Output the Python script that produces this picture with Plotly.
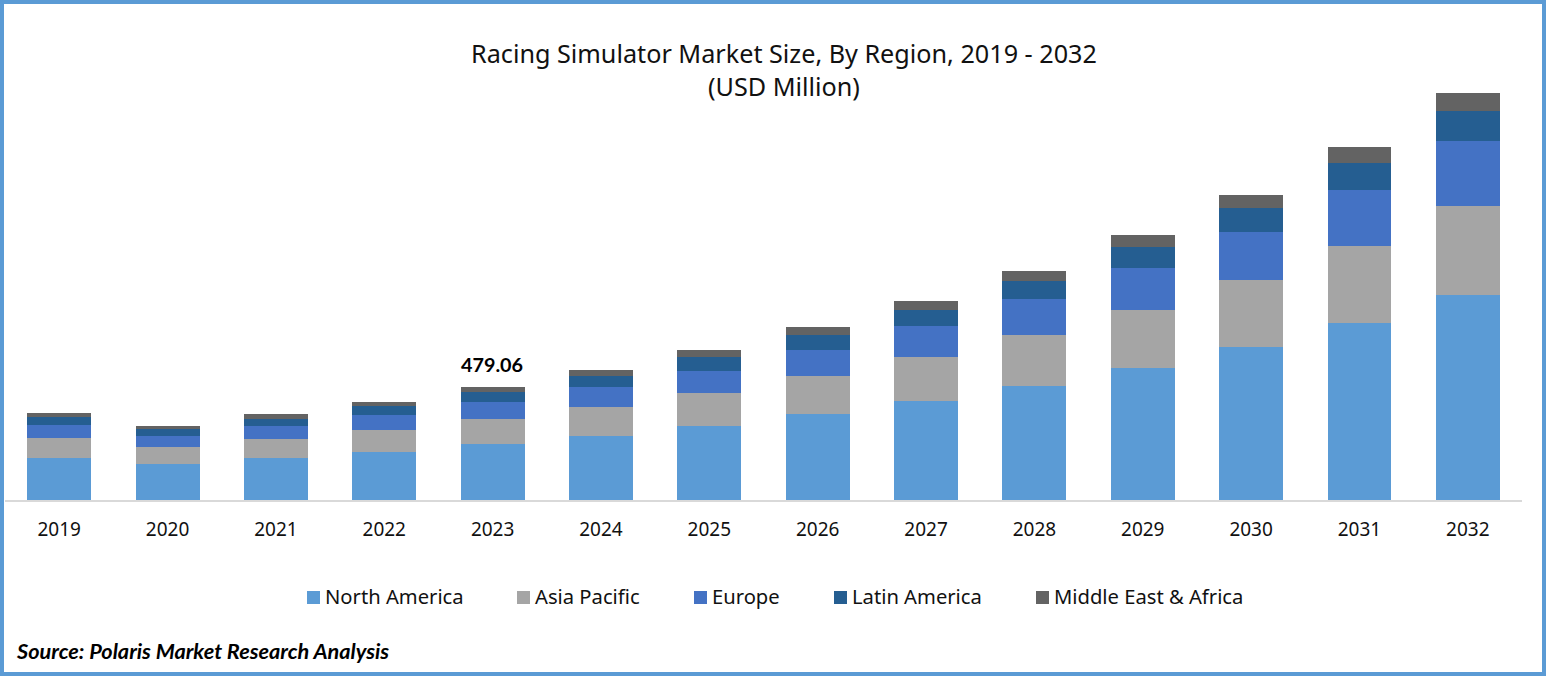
import plotly.graph_objects as go

#Data
years = ["2019", "2020", "2021", "2022", "2023", "2024", "2025", "2026", "2027", "2028", "2029", "2030", "2031", "2032"]
north_america = [178, 152.6, 178, 203.5, 237.4, 271.4, 313.8, 364.6, 419.8, 483.4, 559.7, 648.7, 750.5, 869.2]
asia_pacific = [84.8, 72.1, 80.6, 93.3, 106, 123, 139.9, 161.1, 186.6, 216.2, 245.9, 284.1, 326.5, 377.4]
europe = [55.1, 46.6, 55.1, 63.6, 72.1, 84.8, 93.3, 110.2, 131.4, 152.6, 178.1, 203.5, 237.4, 275.6]
latin_america = [33.9, 29.7, 29.7, 38.2, 42.4, 46.6, 59.4, 63.6, 67.8, 76.3, 89, 101.8, 114.5, 127.2]
mea = [17, 12.7, 21.2, 17, 21.16, 25.4, 29.7, 33.9, 38.2, 42.4, 50.9, 55.1, 67.8, 76.3]

region_names = ["North America", "Asia Pacific", "Europe", "Latin America", "Middle East & Africa"]
region_values = [north_america, asia_pacific, europe, latin_america, mea]
region_colors = ["#5B9BD5", "#A5A5A5", "#4472C4", "#255E91", "#636363"]

W = 1546
H = 676
left, right, top, bottom = 5, 24, 60, 176

#pixel to paper helpers, for the frame and texts outside the plot
def px(x):
    return (x - left) / (W - left - right)

def py(y):
    return 1 - (y - top) / (H - top - bottom)

fig = go.Figure()
for name, values, color in zip(region_names, region_values, region_colors):
    fig.add_bar(x=years, y=values, name=name, marker_color=color, marker_line_width=0, showlegend=False)

fig.update_layout(
    width=W, height=H,
    barmode="stack", bargap=0.41,
    margin=dict(l=left, r=right, t=top, b=bottom),
    paper_bgcolor="white", plot_bgcolor="white",
    font=dict(family="Noto Sans", color="#111111"),
)
fig.update_xaxes(type="category", range=[-0.5, 13.5], automargin=False, showgrid=False, showline=True,
                 linecolor="#D9D9D9", linewidth=2,
                 ticks="outside", ticklen=11, tickcolor="white", tickfont=dict(size=19))
fig.update_yaxes(range=[0, 1865.6], visible=False)

#label over 2023 only
i = years.index("2023")
fig.add_annotation(x=i, y=sum(v[i] for v in region_values),
                   text="<b>479.06</b>", showarrow=False, yanchor="bottom", yshift=9, xshift=-1,
                   font=dict(family="Lato", size=19.8, color="#000000"))
fig.add_annotation(xref="paper", yref="paper", x=px(784), y=py(69), yanchor="middle", showarrow=False,
                   text="Racing Simulator Market Size, By Region, 2019 - 2032<br>(USD Million)",
                   font=dict(size=25.2, color="#111111"))
fig.add_annotation(xref="paper", yref="paper", x=px(14), y=py(651), xanchor="left", yanchor="middle", showarrow=False,
                   text="<b><i>Source: Polaris Market Research Analysis</i></b>",
                   font=dict(family="Lato", size=21.7, color="#000000"))

#legend drawn by hand, the native one cannot space its items like this
swatch_x = [307, 517, 694, 834, 1036]
for name, color, x in zip(region_names, region_colors, swatch_x):
    fig.add_shape(type="rect", xref="paper", yref="paper", x0=px(x), x1=px(x + 13), y0=py(591), y1=py(604),
                  line_width=0, fillcolor=color)
    fig.add_annotation(xref="paper", yref="paper", x=px(x + 18), y=py(596), xanchor="left", yanchor="middle",
                       showarrow=False, text=name, xshift=-2, font=dict(size=20.2, color="#111111"))

#frame around the whole picture
fig.add_shape(type="rect", xref="paper", yref="paper", x0=px(2), x1=px(W - 2), y0=py(2), y1=py(H - 2),
              line=dict(color="#5B9BD5", width=4), fillcolor="rgba(0,0,0,0)", layer="above")

fig.write_html("out.html", config=dict(displayModeBar=False),
               post_script="document.body.style.margin='0';")
